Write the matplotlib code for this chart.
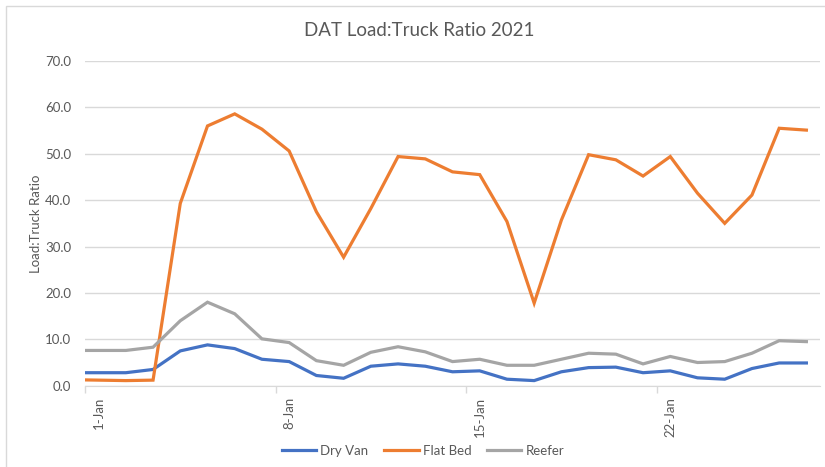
import matplotlib
matplotlib.use("Agg")
import matplotlib.pyplot as plt
import pandas as pd
from matplotlib.patches import Rectangle

plt.rcParams['font.family'] = ['Lato', 'DejaVu Sans']

# daily values, 31-Dec-2020 .. 27-Jan-2021 (first point is clipped at the axis edge)
dates = pd.date_range('2020-12-31', '2021-01-27', freq='D')
dry_van = [2.8, 2.8, 2.8, 3.5, 7.5, 8.8, 8.0, 5.7, 5.2, 2.2, 1.6, 4.2, 4.7, 4.2,
           3.0, 3.2, 1.4, 1.1, 3.0, 3.9, 4.0, 2.8, 3.2, 1.7, 1.4, 3.7, 4.9, 4.9]
flat_bed = [1.3, 1.2, 1.1, 1.2, 39.3, 56.0, 58.6, 55.3, 50.6, 37.5, 27.7, 38.2, 49.4, 48.9,
            46.1, 45.5, 35.4, 17.8, 35.7, 49.8, 48.7, 45.2, 49.4, 41.5, 35.0, 41.1, 55.5, 55.1]
reefer = [7.6, 7.6, 7.6, 8.3, 14.0, 18.0, 15.5, 10.1, 9.3, 5.4, 4.4, 7.2, 8.4, 7.3,
          5.2, 5.7, 4.4, 4.4, 5.7, 7.0, 6.8, 4.7, 6.3, 5.0, 5.2, 7.0, 9.7, 9.5]

series = [('Dry Van', dry_van, '#4472C4'),
          ('Flat Bed', flat_bed, '#ED7D31'),
          ('Reefer', reefer, '#A5A5A5')]

txt = '#595959'
grid = '#D9D9D9'

fig = plt.figure(figsize=(8.25, 4.67), dpi=100)
ax = fig.add_axes([85 / 825, 1 - 385.7 / 467, 735 / 825, 324.7 / 467])

for name, vals, col in series:
    ax.plot(dates, vals, color=col, lw=2.3, label=name, solid_joinstyle='miter')

half = pd.Timedelta(hours=12)
ax.set_xlim(pd.Timestamp('2021-01-01') - half, pd.Timestamp('2021-01-27') + half)
ax.set_ylim(0, 70)
ax.set_yticks(range(0, 71, 10))
ax.yaxis.set_major_formatter(plt.FuncFormatter(lambda v, p: f'{v:.1f}'))

major = pd.to_datetime(['2021-01-01', '2021-01-08', '2021-01-15', '2021-01-22'])
ax.set_xticks(major)
ax.set_xticklabels([d.strftime('%-d-%b') for d in major], rotation=90)
ax.set_xticks([d - half for d in major], minor=True)
ax.tick_params(axis='x', which='major', length=0, pad=8, labelsize=9.5, labelcolor=txt)
ax.tick_params(axis='x', which='minor', length=5, color=grid, width=1)
ax.tick_params(axis='y', length=0, pad=10, labelsize=9.5, labelcolor=txt)

ax.grid(axis='y', color=grid, lw=1)
ax.set_axisbelow(True)
for s in ['top', 'right', 'left']:
    ax.spines[s].set_visible(False)
ax.spines['bottom'].set_color(grid)

ax.set_ylabel('Load:Truck Ratio', color=txt, fontsize=9.5, labelpad=2)
fig.text(0.508, 1 - 31 / 467, 'DAT Load:Truck Ratio 2021', ha='center', va='center',
         fontsize=13.5, color=txt)

fig.legend(loc='center', bbox_to_anchor=(423 / 825, 1 - 451 / 467), ncol=3, frameon=False,
           fontsize=9.5, handlelength=2.6, columnspacing=1.2, handletextpad=0.3,
           labelcolor=txt)

# chart area border
fig.patches.append(Rectangle((6 / 825, -0.05), 1.1, 1 - 6 / 467 + 0.05, transform=fig.transFigure,
                             fill=False, edgecolor=grid, lw=1))

fig.savefig('out.png', dpi=100)
